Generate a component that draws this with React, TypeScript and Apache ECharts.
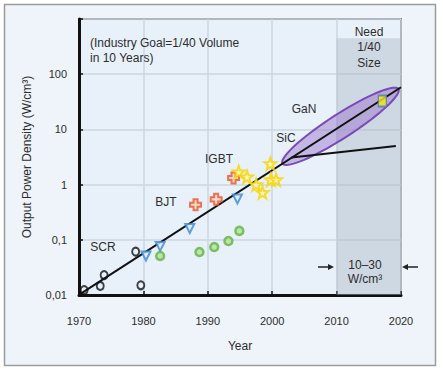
import { useEffect, useRef } from 'react';
import * as echarts from 'echarts';

// ---- data ----
const scrYears = [1970.8, 1973.3, 1973.9, 1978.8, 1979.6];
const scrValues = [0.0123, 0.0146, 0.023, 0.061, 0.015];
const bjtYears = [1980.4, 1982.6, 1987.2, 1994.6];
const bjtValues = [0.051, 0.076, 0.16, 0.55];
const greenYears = [1982.6, 1988.7, 1991.0, 1993.2, 1994.9];
const greenValues = [0.051, 0.06, 0.074, 0.095, 0.145];
const igbtYears = [1988.1, 1991.3, 1994.0];
const igbtValues = [0.43, 0.54, 1.32];
const sicYears = [1994.8, 1996.1, 1997.5, 1998.5, 1999.7, 1999.8, 2000.6];
const sicValues = [1.7, 1.38, 1.0, 0.72, 2.4, 1.23, 1.23];
const ganYears = [2017.1];
const ganValues = [32.7];
const trendYears = [1970.1, 2020];
const trendValues = [0.0103, 58];
const branchYears = [2003, 2019.2];
const branchValues = [3.1, 5.0];
const ellipseTips = [2001.6, 2.4, 2019.6, 54];
const goalBandYears = [2010, 2020];
const goalBandValues = [0.01, 450];
const xTickYears = [1970, 1980, 1990, 2000, 2010, 2020];
const yTickLabels: Record<string, string> = { '-2': '0,01', '-1': '0,1', '0': '1', '1': '10', '2': '100', '3': '' };

const zip = (xs: number[], ys: number[]) => xs.map((x, i) => [x, ys[i]]);

const STAR = 'path://M0,-10L2.35,-3.24L9.51,-3.09L3.8,1.24L5.88,8.09L0,4L-5.88,8.09L-3.8,1.24L-9.51,-3.09L-2.35,-3.24Z';
const PLUS = 'path://M-2.2,-6L2.2,-6L2.2,-2.2L6,-2.2L6,2.2L2.2,2.2L2.2,6L-2.2,6L-2.2,2.2L-6,2.2L-6,-2.2L-2.2,-2.2Z';

const FONT = 'Liberation Sans, Arial, sans-serif';
const TXT = '#2d2d2d';

export default function App() {
  const ref = useRef<HTMLDivElement>(null);
  useEffect(() => {
    if (!ref.current) return;
    const chart = echarts.init(ref.current, undefined, { renderer: 'svg' });
    const t = (text: string, x: number, y: number, extra: any = {}) => ({
      type: 'text', x, y, silent: true, z: 100,
      style: { text, fill: TXT, font: `12px ${FONT}`, align: 'center', verticalAlign: 'middle', ...extra },
    });
    const arrow = (x1: number, x2: number, y: number) => {
      const dir = Math.sign(x2 - x1);
      return [
        { type: 'line', silent: true, z: 100, shape: { x1, y1: y, x2: x2 - dir * 4, y2: y }, style: { stroke: '#222', lineWidth: 1.5 } },
        { type: 'polygon', silent: true, z: 100, shape: { points: [[x2, y], [x2 - dir * 6, y - 3], [x2 - dir * 6, y + 3]] }, style: { fill: '#222' } },
      ];
    };
    const option: any = {
      animation: false,
      backgroundColor: '#ffffff',
      textStyle: { fontFamily: FONT },
      grid: {
        left: 79, right: 42, top: 19, bottom: 75,
        show: true, backgroundColor: '#e8f1fa', borderColor: '#333', borderWidth: 1.5,
      },
      xAxis: {
        type: 'value', min: xTickYears[0], max: xTickYears[xTickYears.length - 1], interval: 10,
        name: 'Year', nameLocation: 'middle', nameGap: 45,
        nameTextStyle: { color: TXT, fontSize: 12, fontFamily: FONT },
        axisLine: { show: true, lineStyle: { color: '#111', width: 3 } },
        axisTick: { show: true, inside: true, length: 4, lineStyle: { color: '#111', width: 1.5 } },
        axisLabel: { color: TXT, fontSize: 11, margin: 20, fontFamily: FONT, formatter: (v: number) => String(v) },
        splitLine: { show: true, lineStyle: { color: '#cdd6df', width: 1.5 } },
      },
      yAxis: {
        type: 'log', logBase: 10, min: 0.01, max: 1000,
        name: 'Output Power Density (W/cm³)', nameLocation: 'middle', nameGap: 46,
        nameTextStyle: { color: TXT, fontSize: 12, fontFamily: FONT },
        axisLine: { show: true, lineStyle: { color: '#111', width: 3 } },
        axisTick: { show: true, inside: true, length: 4, lineStyle: { color: '#111', width: 1.5 } },
        axisLabel: {
          color: TXT, fontSize: 11, margin: 12, fontFamily: FONT,
          formatter: (v: number) => yTickLabels[String(Math.round(Math.log10(v)))] ?? '',
        },
        splitLine: { show: true, lineStyle: { color: '#cdd6df', width: 1.5 } },
        minorTick: { show: false },
      },
      graphic: [
        { type: 'rect', z: -10, silent: true, shape: { x: 4.5, y: 4.5, width: 431, height: 361 }, style: { fill: '#eef4fa', stroke: '#9c9c9c', lineWidth: 1.5 } },
        t('(Industry Goal=1/40 Volume', 90, 43, { align: 'left' }),
        t('in 10 Years)', 90, 58, { align: 'left' }),
        t('Need', 369, 32),
        t('1/40', 369, 47),
        t('Size', 369, 63),
        t('10–30', 365, 265),
        t('W/cm³', 365, 279),
        t('SCR', 103, 247),
        t('BJT', 166, 202),
        t('IGBT', 219, 159),
        t('SiC', 286, 138),
        t('GaN', 304, 109),
        ...arrow(318, 334, 267),
        ...arrow(418, 402, 267),
      ],
      series: [
        {
          type: 'line', data: zip(goalBandYears, goalBandValues), symbol: 'none', lineStyle: { opacity: 0 }, silent: true,
          markArea: {
            silent: true,
            itemStyle: { color: 'rgba(170,182,196,0.42)' },
            data: [[{ xAxis: goalBandYears[0], yAxis: goalBandValues[0] }, { xAxis: goalBandYears[1], yAxis: goalBandValues[1] }]],
          },
        },
        {
          type: 'custom', data: [ellipseTips], encode: { x: [0, 2], y: [1, 3] }, silent: true, z: 3,
          renderItem: (_p: any, api: any) => {
            const a1 = api.coord([api.value(0), api.value(1)]);
            const a2 = api.coord([api.value(2), api.value(3)]);
            const cx = (a1[0] + a2[0]) / 2, cy = (a1[1] + a2[1]) / 2;
            const dx = a2[0] - a1[0], dy = a2[1] - a1[1];
            const a = Math.hypot(dx, dy) / 2, b = 12, th = Math.atan2(dy, dx);
            const pts: number[][] = [];
            for (let i = 0; i < 72; i++) {
              const s = (i / 72) * Math.PI * 2;
              pts.push([
                cx + a * Math.cos(s) * Math.cos(th) - b * Math.sin(s) * Math.sin(th),
                cy + a * Math.cos(s) * Math.sin(th) + b * Math.sin(s) * Math.cos(th),
              ]);
            }
            return { type: 'polygon', shape: { points: pts }, style: { fill: 'rgba(150,110,205,0.45)', stroke: '#7a4ab8', lineWidth: 2 } };
          },
        },
        { type: 'line', data: zip(trendYears, trendValues), symbol: 'none', lineStyle: { color: '#111', width: 2 }, z: 4, silent: true },
        { type: 'line', data: zip(branchYears, branchValues), symbol: 'none', lineStyle: { color: '#111', width: 2 }, z: 4, silent: true },
        { type: 'scatter', data: zip(scrYears, scrValues), symbol: 'circle', symbolSize: [7, 8], z: 5, itemStyle: { color: 'rgba(0,0,0,0)', borderColor: '#111', borderWidth: 2 } },
        { type: 'scatter', data: zip(bjtYears, bjtValues), symbol: 'triangle', symbolRotate: 180, symbolSize: 9, z: 5, itemStyle: { color: '#dcedfb', borderColor: '#3a8ad8', borderWidth: 2 } },
        { type: 'scatter', data: zip(greenYears, greenValues), symbol: 'circle', symbolSize: 8, z: 5, itemStyle: { color: '#b7df98', borderColor: '#62b444', borderWidth: 2.5 } },
        { type: 'scatter', data: zip(igbtYears, igbtValues), symbol: PLUS, symbolSize: 11, z: 5, itemStyle: { color: '#fbd3c2', borderColor: '#ea552c', borderWidth: 2 } },
        { type: 'scatter', data: zip(sicYears, sicValues), symbol: STAR, symbolSize: 12, z: 5, itemStyle: { color: '#fff7b8', borderColor: '#f6d500', borderWidth: 2 } },
        { type: 'scatter', data: zip(ganYears, ganValues), symbol: 'rect', symbolSize: [8, 11], z: 6, itemStyle: { color: '#f5e81a', borderColor: '#4d7ea0', borderWidth: 1.5 } },
      ],
    };
    chart.setOption(option);
    return () => chart.dispose();
  }, []);
  return <div ref={ref} style={{ position: 'fixed', left: 0, top: 0, width: 443, height: 370 }} />;
}
